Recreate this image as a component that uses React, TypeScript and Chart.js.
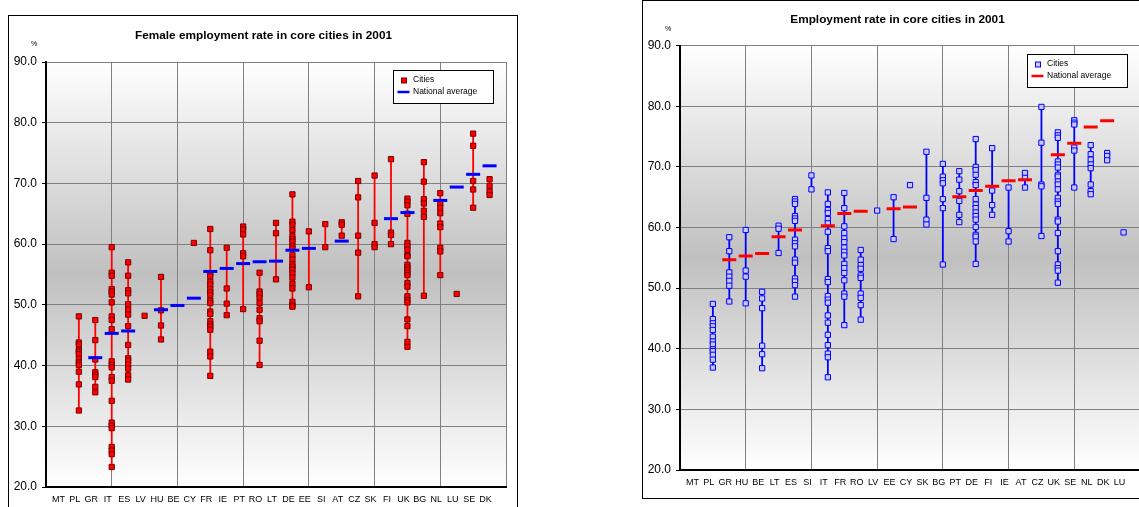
import React, { useEffect, useRef } from 'react';
import { Chart, registerables } from 'chart.js';

Chart.register(...registerables);

const FONT = '"Liberation Sans", Arial, Helvetica, sans-serif';

// ---------- Left chart: female employment ----------
const femaleCategories = ['MT', 'PL', 'GR', 'IT', 'ES', 'LV', 'HU', 'BE', 'CY', 'FR', 'IE', 'PT', 'RO', 'LT', 'DE', 'EE', 'SI', 'AT', 'CZ', 'SK', 'FI', 'UK', 'BG', 'NL', 'LU', 'SE', 'DK'];

const femaleCityRates: number[][] = [
  [],
  [48.1, 43.8, 43.5, 42.6, 42.3, 41.9, 41.1, 40.5, 40.1, 39.0, 36.9, 32.6],
  [47.5, 44.2, 41.0, 38.9, 38.5, 38.1, 36.5, 35.6],
  [59.5, 55.3, 54.8, 52.6, 52.2, 51.7, 50.4, 48.1, 47.5, 46.0, 40.7, 40.1, 39.7, 38.1, 37.5, 34.2, 30.6, 30.1, 29.7, 26.6, 26.0, 25.4, 23.3],
  [57.0, 54.8, 52.4, 51.9, 50.1, 49.2, 48.4, 46.5, 43.4, 41.2, 40.8, 40.2, 39.5, 38.4, 37.7],
  [48.2],
  [54.6, 49.1, 46.6, 44.3],
  [],
  [60.2],
  [62.5, 59.0, 55.2, 54.7, 53.8, 53.3, 52.6, 52.1, 51.6, 50.7, 50.3, 48.9, 48.5, 47.3, 46.8, 46.4, 45.9, 42.3, 41.5, 38.3],
  [59.4, 52.7, 50.2, 48.3],
  [62.9, 62.4, 61.6, 58.5, 58.0, 49.3],
  [55.3, 52.2, 51.8, 51.2, 50.3, 49.2, 47.8, 47.3, 44.1, 40.1],
  [63.5, 61.8, 54.2],
  [68.2, 63.7, 63.2, 62.3, 61.3, 60.8, 60.4, 59.7, 59.3, 58.2, 57.5, 56.7, 56.3, 55.8, 55.2, 54.5, 53.5, 52.7, 50.5, 49.9, 49.7],
  [62.1, 52.9],
  [63.3, 59.5],
  [63.6, 63.2, 61.4],
  [70.4, 67.7, 61.4, 58.6, 51.4],
  [71.3, 63.5, 60.0, 59.5],
  [74.0, 61.9, 61.5, 60.0],
  [67.5, 67.0, 66.4, 65.0, 60.2, 59.7, 59.1, 58.2, 58.0, 56.6, 56.2, 55.8, 55.3, 54.9, 53.6, 53.0, 51.4, 50.8, 50.4, 47.6, 46.5, 43.9, 43.1],
  [73.5, 70.3, 67.4, 66.7, 65.5, 64.5, 51.5],
  [68.4, 66.7, 66.0, 65.1, 63.4, 62.8, 59.4, 58.8, 54.9],
  [51.8],
  [78.2, 76.2, 70.4, 69.0, 66.0],
  [70.7, 69.6, 68.7, 68.1],
];

const femaleNationalAverage: (number | null)[] = [
  null, null, 41.3, 45.3, 45.7, null, 49.2, 49.9, 51.1, 55.5, 56.0, 56.8, 57.1, 57.2,
  59.0, 59.3, null, 60.5, null, null, 64.2, 65.2, null, 67.2, 69.4, 71.5, 72.9,
];

// ---------- Right chart: total employment ----------
const totalCategories = ['MT', 'PL', 'GR', 'HU', 'BE', 'LT', 'ES', 'SI', 'IT', 'FR', 'RO', 'LV', 'EE', 'CY', 'SK', 'BG', 'PT', 'DE', 'FI', 'IE', 'AT', 'CZ', 'UK', 'SE', 'NL', 'DK', 'LU'];

const totalCityRates: number[][] = [
  [],
  [47.4, 44.9, 44.2, 43.7, 43.1, 42.0, 41.2, 40.7, 39.9, 39.6, 39.0, 38.2, 36.9],
  [58.4, 56.1, 52.6, 51.9, 51.2, 50.4, 47.8],
  [59.6, 52.9, 51.9, 47.5],
  [49.4, 48.3, 46.7, 40.5, 39.1, 36.8],
  [60.3, 59.8, 55.8],
  [64.7, 64.3, 63.9, 61.9, 61.5, 61.1, 58.0, 57.4, 56.9, 54.7, 54.2, 51.6, 51.1, 50.5, 48.6],
  [68.6, 66.3],
  [65.8, 63.9, 62.9, 62.4, 61.4, 60.7, 59.3, 56.6, 56.1, 51.5, 51.0, 48.7, 48.1, 47.6, 45.5, 44.3, 42.3, 40.6, 39.2, 38.6, 35.3],
  [65.7, 63.2, 60.2, 59.1, 58.2, 57.6, 56.7, 56.0, 55.4, 54.0, 53.3, 52.5, 51.3, 49.1, 48.6, 43.9],
  [56.3, 54.7, 53.8, 53.2, 52.1, 51.7, 49.1, 48.4, 47.2, 44.8],
  [62.8],
  [65.0, 58.1],
  [67.0],
  [72.5, 64.9, 61.3, 60.5],
  [70.5, 68.4, 67.8, 67.3, 64.7, 63.2, 53.9],
  [69.3, 67.9, 66.0, 64.4, 62.1, 60.9],
  [74.6, 70.0, 69.5, 68.7, 67.5, 67.0, 64.7, 63.8, 63.2, 62.5, 61.9, 61.3, 60.1, 58.8, 58.5, 57.7, 54.0],
  [73.1, 66.1, 63.7, 62.1],
  [66.6, 59.4, 57.7],
  [69.0, 68.2, 66.6],
  [79.9, 74.0, 67.1, 66.8, 58.6],
  [75.7, 75.2, 74.8, 70.9, 70.4, 69.9, 68.7, 68.4, 67.6, 67.1, 66.3, 64.9, 64.3, 63.9, 61.3, 61.0, 59.1, 56.1, 53.9, 53.3, 52.9, 50.9],
  [77.7, 77.3, 77.0, 73.2, 72.7, 66.6],
  [73.6, 72.1, 71.2, 70.4, 69.8, 67.1, 66.0, 65.5],
  [72.3, 71.8, 71.1],
  [59.2],
];

const totalNationalAverage: (number | null)[] = [
  null, null, 54.7, 55.3, 55.7, 58.5, 59.6, null, 60.3, 62.3, 62.7, null, 63.1, 63.4,
  null, null, 65.1, 66.1, 66.8, 67.7, 67.9, null, 72.0, 73.9, 76.6, 77.6, null,
];

const yTickValues = [20, 30, 40, 50, 60, 70, 80, 90];

// ---------- plugins ----------
const backgroundPlugin = {
  id: 'plotGradient',
  beforeDraw(chart: any) {
    const { ctx, chartArea } = chart;
    if (!chartArea) return;
    const { left, top, right, bottom } = chartArea;
    const g = ctx.createLinearGradient(0, top, 0, bottom);
    g.addColorStop(0, '#ffffff');
    g.addColorStop(0.5, '#c0c0c0');
    g.addColorStop(1, '#ffffff');
    ctx.save();
    ctx.fillStyle = g;
    ctx.fillRect(left, top, right - left, bottom - top);
    ctx.restore();
  },
};

const boxLegendPlugin = {
  id: 'boxLegend',
  afterDraw(chart: any) {
    const { ctx, chartArea } = chart;
    const dsAvg = chart.data.datasets[0];
    const dsCity = chart.data.datasets[1];
    const x0 = Math.round(chartArea.right - 113);
    const y0 = Math.round(chartArea.top + 8);
    const w = 100;
    const h = 33;
    ctx.save();
    ctx.fillStyle = '#ffffff';
    ctx.fillRect(x0, y0, w, h);
    ctx.strokeStyle = '#000000';
    ctx.lineWidth = 1;
    ctx.strokeRect(x0 + 0.5, y0 + 0.5, w, h);
    const mx = x0 + 11;
    const my = y0 + 10.5;
    ctx.fillStyle = dsCity.pointBackgroundColor;
    ctx.fillRect(mx - 2.5, my - 2.5, 5, 5);
    ctx.strokeStyle = dsCity.pointBorderColor;
    ctx.lineWidth = 1;
    ctx.strokeRect(mx - 2.5, my - 2.5, 5, 5);
    ctx.strokeStyle = dsAvg.pointBorderColor;
    ctx.lineWidth = 2.5;
    ctx.beginPath();
    ctx.moveTo(x0 + 4.5, y0 + 22);
    ctx.lineTo(x0 + 16.5, y0 + 22);
    ctx.stroke();
    ctx.fillStyle = '#000000';
    ctx.font = `8.5px ${FONT}`;
    ctx.textAlign = 'left';
    ctx.textBaseline = 'middle';
    ctx.fillText(dsCity.label, x0 + 20, y0 + 9.5);
    ctx.fillText(dsAvg.label, x0 + 20, y0 + 21.5);
    ctx.restore();
  },
};

const headerPlugin = {
  id: 'panelHeader',
  afterDraw(chart: any, _args: any, opts: any) {
    const { ctx } = chart;
    ctx.save();
    ctx.fillStyle = '#000000';
    ctx.textAlign = 'center';
    ctx.textBaseline = 'middle';
    ctx.font = `bold 11.8px ${FONT}`;
    ctx.fillText(opts.title, 254.5, opts.titleY);
    ctx.font = `7px ${FONT}`;
    ctx.fillText('%', 25, 28);
    ctx.restore();
  },
};

type PanelProps = {
  title: string;
  categories: string[];
  cities: number[][];
  national: (number | null)[];
  cityFill: string;
  cityStroke: string;
  rangeColor: string;
  avgColor: string;
  width: number;
  height: number;
  titleY: number;
  padTop: number;
  padBottom: number;
};

function Panel(p: PanelProps) {
  const ref = useRef<HTMLCanvasElement | null>(null);
  useEffect(() => {
    if (!ref.current) return;
    const cityPoints = p.cities.flatMap((vals, i) => vals.map((v) => ({ x: i, y: v })));
    const avgPoints = p.national
      .map((v, i) => (v == null ? null : { x: i, y: v }))
      .filter((d) => d !== null);
    const rangePoints = p.cities.flatMap((vals, i) =>
      vals.length > 1
        ? [
            { x: i, y: Math.min(...vals) },
            { x: i, y: Math.max(...vals) },
            { x: i, y: null },
          ]
        : []
    );
    const chart = new Chart(ref.current, {
      type: 'scatter',
      data: {
        datasets: [
          {
            label: 'National average',
            data: avgPoints as any,
            showLine: false,
            pointStyle: 'line',
            pointRadius: 7,
            pointHoverRadius: 7,
            pointBorderWidth: 3,
            pointHoverBorderWidth: 3,
            pointBorderColor: p.avgColor,
            pointBackgroundColor: p.avgColor,
            borderColor: p.avgColor,
            backgroundColor: p.avgColor,
          } as any,
          {
            label: 'Cities',
            data: cityPoints,
            showLine: false,
            pointStyle: 'rect',
            pointRadius: 3.7,
            pointHoverRadius: 3.7,
            pointBorderWidth: 1,
            pointBackgroundColor: p.cityFill,
            pointBorderColor: p.cityStroke,
            borderColor: p.cityStroke,
            backgroundColor: p.cityFill,
          } as any,
          {
            label: 'range',
            data: rangePoints as any,
            showLine: true,
            spanGaps: false,
            borderColor: p.rangeColor,
            borderWidth: 1.8,
            pointRadius: 0,
            pointHoverRadius: 0,
          } as any,
        ],
      },
      options: {
        responsive: false,
        maintainAspectRatio: false,
        animation: false,
        devicePixelRatio: 1,
        events: [],
        layout: { padding: { left: 0, right: 11, top: p.padTop, bottom: p.padBottom } },
        plugins: {
          legend: { display: false },
          tooltip: { enabled: false },
          title: { display: false },
          panelHeader: { title: p.title, titleY: p.titleY },
        },
        scales: {
          x: {
            type: 'linear',
            min: -1,
            max: 27,
            afterBuildTicks: (s: any) => {
              s.ticks = Array.from({ length: 29 }, (_, k) => ({ value: k - 1 }));
            },
            afterFit: (s: any) => {
              s.height = 21;
            },
            ticks: {
              autoSkip: false,
              maxRotation: 0,
              minRotation: 0,
              padding: 7,
              labelOffset: -4,
              color: '#000000',
              font: { family: FONT, size: 9 },
              callback: (v: any) => p.categories[Number(v)] ?? '',
            },
            grid: {
              drawTicks: false,
              lineWidth: 1,
              color: (ctx: any) =>
                ctx.tick && (ctx.tick.value + 1) % 4 === 0 ? '#808080' : 'rgba(0,0,0,0)',
            },
            border: { color: '#000000', width: 2 },
          },
          y: {
            type: 'linear',
            min: 20,
            max: 90,
            afterBuildTicks: (s: any) => {
              s.ticks = yTickValues.map((v) => ({ value: v }));
            },
            afterFit: (s: any) => {
              s.width = 37;
            },
            ticks: {
              padding: 5,
              color: '#000000',
              font: { family: FONT, size: 12 },
              callback: (v: any) => Number(v).toFixed(1),
            },
            grid: {
              color: '#808080',
              lineWidth: 1,
              drawTicks: true,
              tickLength: 4,
              tickColor: '#000000',
            },
            border: { color: '#000000', width: 2 },
          },
        },
      } as any,
      plugins: [backgroundPlugin, boxLegendPlugin, headerPlugin],
    });
    return () => chart.destroy();
  }, []);
  return (
    <canvas
      ref={ref}
      width={p.width}
      height={p.height}
      style={{ display: 'block', width: p.width, height: p.height }}
    />
  );
}

export default function App() {
  return (
    <div
      style={{
        position: 'absolute',
        left: 0,
        top: 0,
        width: 1139,
        height: 507,
        overflow: 'hidden',
        background: '#ffffff',
      }}
    >
      <div
        style={{
          position: 'absolute',
          left: 8,
          top: 15,
          width: 510,
          height: 530,
          border: '1px solid #000',
          boxSizing: 'border-box',
          background: '#fff',
        }}
      >
        <Panel
          title="Female employment rate in core cities in 2001"
          categories={femaleCategories}
          cities={femaleCityRates}
          national={femaleNationalAverage}
          cityFill="#ff0000"
          cityStroke="#7a0000"
          rangeColor="#ff0000"
          avgColor="#0000ff"
          width={508}
          height={508}
          titleY={19.5}
          padTop={46}
          padBottom={16}
        />
      </div>
      <div
        style={{
          position: 'absolute',
          left: 642,
          top: 0,
          width: 510,
          height: 499,
          border: '1px solid #000',
          boxSizing: 'border-box',
          background: '#fff',
        }}
      >
        <Panel
          title="Employment rate in core cities in 2001"
          categories={totalCategories}
          cities={totalCityRates}
          national={totalNationalAverage}
          cityFill="#c8c8ff"
          cityStroke="#0000ff"
          rangeColor="#0000ff"
          avgColor="#ff0000"
          width={508}
          height={497}
          titleY={19}
          padTop={44.7}
          padBottom={7}
        />
      </div>
    </div>
  );
}
